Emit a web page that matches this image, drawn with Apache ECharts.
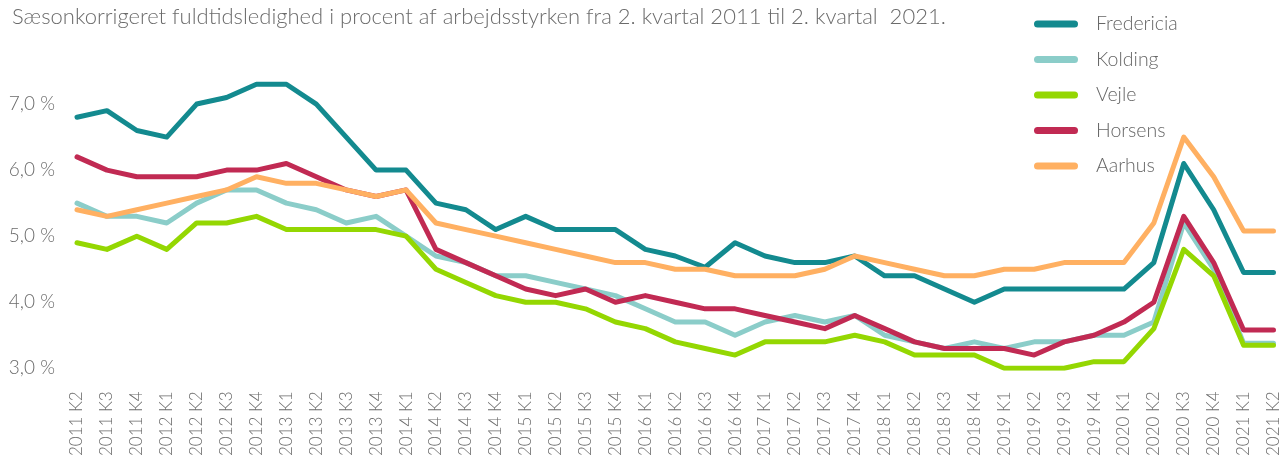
<!DOCTYPE html>
<html>
<head>
<meta charset="utf-8">
<script src="https://cdn.jsdelivr.net/npm/echarts@6/dist/echarts.min.js"></script>
<style>
  html, body { margin: 0; padding: 0; background: #fff; }
  #main { width: 1282px; height: 459px; }
</style>
</head>
<body>
<div id="main"></div>
<script>
// kvartaler
const quarters = [
  '2011 K2','2011 K3','2011 K4',
  '2012 K1','2012 K2','2012 K3','2012 K4',
  '2013 K1','2013 K2','2013 K3','2013 K4',
  '2014 K1','2014 K2','2014 K3','2014 K4',
  '2015 K1','2015 K2','2015 K3','2015 K4',
  '2016 K1','2016 K2','2016 K3','2016 K4',
  '2017 K1','2017 K2','2017 K3','2017 K4',
  '2018 K1','2018 K2','2018 K3','2018 K4',
  '2019 K1','2019 K2','2019 K3','2019 K4',
  '2020 K1','2020 K2','2020 K3','2020 K4',
  '2021 K1','2021 K2'
];

const fredericia = [6.8,6.9,6.6,6.5,7.0,7.1,7.3,7.3,7.0,6.5,6.0,6.0,5.5,5.4,5.1,5.3,5.1,5.1,5.1,4.8,4.7,4.53,4.9,4.7,4.6,4.6,4.7,4.4,4.4,4.2,4.0,4.2,4.2,4.2,4.2,4.2,4.6,6.1,5.4,4.45,4.45];
const kolding    = [5.5,5.3,5.3,5.2,5.5,5.7,5.7,5.5,5.4,5.2,5.3,5.0,4.7,4.6,4.4,4.4,4.3,4.2,4.1,3.9,3.7,3.7,3.5,3.7,3.8,3.7,3.8,3.5,3.4,3.3,3.4,3.3,3.4,3.4,3.5,3.5,3.7,5.2,4.5,3.38,3.38];
const vejle      = [4.9,4.8,5.0,4.8,5.2,5.2,5.3,5.1,5.1,5.1,5.1,5.0,4.5,4.3,4.1,4.0,4.0,3.9,3.7,3.6,3.4,3.3,3.2,3.4,3.4,3.4,3.5,3.4,3.2,3.2,3.2,3.0,3.0,3.0,3.1,3.1,3.6,4.8,4.4,3.35,3.35];
const horsens    = [6.2,6.0,5.9,5.9,5.9,6.0,6.0,6.1,5.9,5.7,5.6,5.7,4.8,4.6,4.4,4.2,4.1,4.2,4.0,4.1,4.0,3.9,3.9,3.8,3.7,3.6,3.8,3.6,3.4,3.3,3.3,3.3,3.2,3.4,3.5,3.7,4.0,5.3,4.6,3.58,3.58];
const aarhus     = [5.4,5.3,5.4,5.5,5.6,5.7,5.9,5.8,5.8,5.7,5.6,5.7,5.2,5.1,5.0,4.9,4.8,4.7,4.6,4.6,4.5,4.5,4.4,4.4,4.4,4.5,4.7,4.6,4.5,4.4,4.4,4.5,4.5,4.6,4.6,4.6,5.2,6.5,5.9,5.08,5.08];

const names  = ['Fredericia','Kolding','Vejle','Horsens','Aarhus'];
const colors = ['#138a8f','#8bcdc9','#94d702','#c12a53','#ffb062'];
const values = [fredericia, kolding, vejle, horsens, aarhus];

const titleText = 'Sæsonkorrigeret fuldtidsledighed i procent af arbejdsstyrken fra 2. kvartal 2011 til 2. kvartal  2021.';

const chart = echarts.init(document.getElementById('main'));

// kapsel-ikon til legenden
const capsule = 'path://M3.5,0 H40.5 A3.5,3.5 0 0 1 40.5,7 H3.5 A3.5,3.5 0 0 1 3.5,0 Z';

let series = [];
for (let i = 0; i < names.length; i++) {
  series.push({
    name: names[i],
    type: 'line',
    data: values[i],
    symbol: 'none',
    smooth: false,
    lineStyle: { color: colors[i], width: 5, cap: 'round', join: 'round' },
    itemStyle: { color: colors[i] }
  });
}

const option = {
  animation: false,
  textStyle: { fontFamily: 'Lato', fontWeight: 300 },
  title: {
    text: titleText,
    left: 7,
    top: 1,
    textStyle: { fontFamily: 'Lato', fontWeight: 300, fontSize: 22, color: '#6b6b6b' }
  },
  legend: {
    orient: 'vertical',
    left: 1029,
    top: 8,
    itemWidth: 44,
    itemHeight: 7,
    itemGap: 13.5,
    icon: capsule,
    data: names,
    textStyle: {
      fontFamily: 'Lato', fontWeight: 300, fontSize: 19.5, color: '#666',
      lineHeight: 22, padding: [0, 0, 0, 13]
    }
  },
  grid: {
    left: 77,
    right: 6,
    top: 38,
    bottom: 89
  },
  xAxis: {
    type: 'category',
    boundaryGap: false,
    data: quarters,
    axisLine: { show: false },
    axisTick: { show: false },
    axisLabel: {
      rotate: 90,
      interval: 0,
      margin: 23,
      fontFamily: 'Lato',
      fontWeight: 300,
      fontSize: 17,
      color: '#6b6b6b'
    }
  },
  yAxis: {
    type: 'value',
    min: 3,
    max: 8,
    interval: 1,
    splitLine: { show: false },
    axisLine: { show: false },
    axisTick: { show: false },
    axisLabel: {
      margin: 22,
      showMaxLabel: false,
      fontFamily: 'Lato',
      fontWeight: 300,
      fontSize: 19,
      color: '#6b6b6b',
      formatter: function (v) { return v.toFixed(1).replace('.', ',') + ' %'; }
    }
  },
  series: series
};

chart.setOption(option);
</script>
</body>
</html>
